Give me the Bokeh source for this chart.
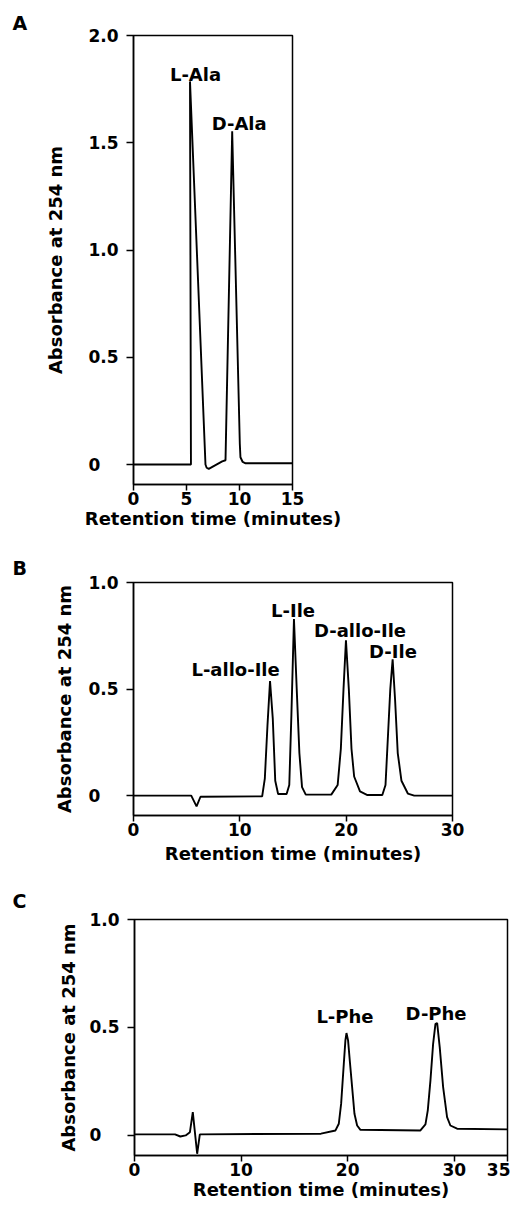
from bokeh.plotting import figure
from bokeh.layouts import column
from bokeh.models import FixedTicker, Range1d, ColumnDataSource
from bokeh.core.properties import value
from bokeh.embed import file_html
from bokeh.resources import INLINE

# ---------------- data ----------------
# Panel A: alanine
ala_time = [0, 5.42, 5.33, 6.79, 6.9, 7.1, 8.37, 8.68, 9.31, 10.03, 10.09, 10.3, 10.57, 15]
ala_abs = [0, 0, 1.786, 0.0, -0.015, -0.02, 0.015, 0.02, 1.553, 0.096, 0.034, 0.012, 0.006, 0.006]
ala_labels = ["L-Ala", "D-Ala"]
ala_label_x = [5.85, 9.97]
ala_label_y = [1.82, 1.59]

# Panel B: isoleucine
ile_time = [0, 5.43, 5.93, 6.3, 12.1, 12.35, 12.6, 12.84, 13.1, 13.33, 13.6, 14.4, 14.65,
            14.85, 15.09, 15.35, 15.6, 15.85, 16.2, 18.6, 19.2, 19.5, 19.75, 19.98, 20.25,
            20.5, 20.75, 21.3, 22.0, 23.4, 23.7, 23.95, 24.15, 24.37, 24.6, 24.85, 25.2,
            25.8, 26.4, 30]
ile_abs = [0, 0, -0.05, -0.005, -0.003, 0.08, 0.33, 0.538, 0.36, 0.07, 0.008, 0.008, 0.05,
           0.38, 0.829, 0.5, 0.2, 0.04, 0.005, 0.005, 0.05, 0.22, 0.5, 0.729, 0.5,
           0.22, 0.09, 0.02, 0.003, 0.003, 0.05, 0.3, 0.5, 0.64, 0.45, 0.2, 0.07,
           0.01, 0.0, 0.0]
ile_labels = ["L-allo-Ile", "L-Ile", "D-allo-Ile", "D-Ile"]
ile_label_x = [9.6, 15.0, 21.3, 24.4]
ile_label_y = [0.59, 0.87, 0.777, 0.675]

# Panel C: phenylalanine
phe_time = [0, 3.8, 4.3, 4.8, 5.2, 5.47, 5.88, 6.13, 17.5, 18.86, 19.17, 19.39, 19.64,
            19.79, 19.89, 20.04, 20.2, 20.42, 20.64, 20.89, 21.2, 26.83, 27.3, 27.52,
            27.77, 28.02, 28.24, 28.4, 28.64, 28.96, 29.33, 29.64, 30.27, 35]
phe_abs = [0.005, 0.005, -0.005, 0.0, 0.015, 0.108, -0.085, 0.005, 0.008, 0.023, 0.054,
           0.147, 0.332, 0.44, 0.474, 0.44, 0.347, 0.224, 0.1, 0.046, 0.026, 0.023,
           0.051, 0.116, 0.255, 0.424, 0.517, 0.52, 0.409, 0.224, 0.085, 0.046, 0.031, 0.028]
phe_labels = ["L-Phe", "D-Phe"]
phe_label_x = [19.75, 28.3]
phe_label_y = [0.55, 0.565]

x_ticks_a = [0, 5, 10, 15]
x_ticks_b = [0, 10, 20, 30]
x_ticks_c = [0, 10, 20, 30, 35]
y_ticks_a = [0, 0.5, 1.0, 1.5, 2.0]
y_ticks_bc = [0, 0.5, 1.0]
# "0" is padded with a punctuation space and a figure space so it sits left-aligned
y_tick_text = {0: "0\u2008\u2007", 0.5: "0.5", 1.0: "1.0", 1.5: "1.5", 2.0: "2.0"}

FONT = "DejaVu Sans"


def make_panel(letter, xs, ys, labels, lx, ly, xmax, ymax, xticks, yticks,
               height, left, right, top, bottom, ylabel_standoff, xlabel_standoff,
               title_standoff):
    p = figure(width=510, height=height,
               x_range=Range1d(0, xmax), y_range=Range1d(-0.093, ymax),
               output_backend="svg", toolbar_location=None,
               min_border_left=left, min_border_right=right,
               min_border_top=top, min_border_bottom=bottom,
               title=letter)
    p.title.align = "left"
    p.title.offset = -(left - 12)
    p.title.standoff = title_standoff
    p.title.text_font = FONT
    p.title.text_font_style = "bold"
    p.title.text_font_size = "19px"
    p.title.text_color = "black"

    p.xgrid.visible = False
    p.ygrid.visible = False
    p.outline_line_color = "black"
    p.outline_line_width = 1.5
    p.background_fill_color = "white"
    p.border_fill_color = "white"

    p.line(xs, ys, line_color="black", line_width=1.9)

    src = ColumnDataSource(dict(x=lx, y=ly, t=labels))
    p.text(x="x", y="y", text="t", source=src, text_align="center",
           text_baseline="alphabetic", text_font=value(FONT),
           text_font_style="bold", text_font_size="18px", text_color="black")

    xa = p.xaxis[0]
    xa.ticker = FixedTicker(ticks=xticks)
    xa.axis_label = "Retention time (minutes)"
    ya = p.yaxis[0]
    ya.ticker = FixedTicker(ticks=yticks)
    ya.major_label_overrides = {t: y_tick_text[t] for t in yticks}
    ya.axis_label = "Absorbance at 254 nm"
    for ax in (xa, ya):
        ax.axis_line_color = "black"
        ax.axis_line_width = 1.5
        ax.major_tick_line_color = "black"
        ax.major_tick_line_width = 1.5
        ax.major_tick_in = 0
        ax.minor_tick_line_color = None
        ax.major_label_text_font = FONT
        ax.major_label_text_font_style = "bold"
        ax.major_label_text_font_size = "17px"
        ax.major_label_text_color = "black"
        ax.axis_label_text_font = FONT
        ax.axis_label_text_font_style = "bold"
        ax.axis_label_text_font_size = "18px"
        ax.axis_label_text_color = "black"
    xa.major_tick_out = 6
    xa.major_label_standoff = 1
    xa.axis_label_standoff = xlabel_standoff
    ya.major_tick_out = 7
    ya.major_label_standoff = 8
    ya.axis_label_standoff = ylabel_standoff
    return p


pa = make_panel("A", ala_time, ala_abs, ala_labels, ala_label_x, ala_label_y, 15, 2.0,
                x_ticks_a, y_ticks_a, height=550, left=133, right=218, top=35,
                bottom=66, ylabel_standoff=19, xlabel_standoff=0, title_standoff=4)
pb = make_panel("B", ile_time, ile_abs, ile_labels, ile_label_x, ile_label_y, 30, 1.0,
                x_ticks_b, y_ticks_bc, height=330, left=133, right=58, top=30,
                bottom=65, ylabel_standoff=10, xlabel_standoff=4, title_standoff=8)
pc = make_panel("C", phe_time, phe_abs, phe_labels, phe_label_x, phe_label_y, 35, 1.0,
                x_ticks_c, y_ticks_bc, height=325, left=134, right=3, top=39,
                bottom=50, ylabel_standoff=7, xlabel_standoff=0, title_standoff=15)

layout = column(column(pa), column(pb), column(pc), spacing=0)
open("out.html", "w").write(file_html(layout, INLINE))
